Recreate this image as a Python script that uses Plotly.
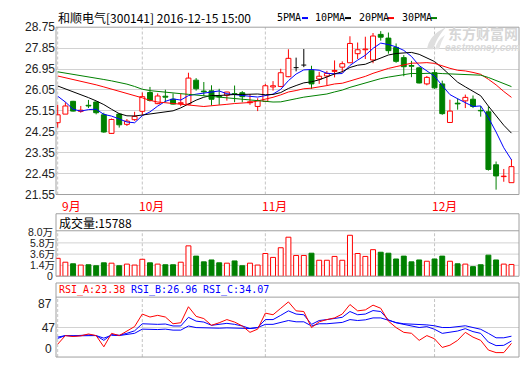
import plotly.graph_objects as go

# ---------------- data ----------------
month_labels = ["9月", "10月", "11月", "12月"]
month_start_idx = [0, 11, 27, 49]

opens = [24.64, 25.01, 25.56, 25.13, 25.39, 25.53, 24.98, 24.18, 25.01, 24.57,
         24.77, 25.13, 25.94, 25.46, 25.78, 25.65, 25.46, 25.44, 26.47, 26.00,
         26.01, 25.78, 25.82, 25.89, 25.93, 25.50, 25.34, 25.56, 26.18, 26.20,
         26.62, 27.01, 27.12, 26.90, 26.52, 26.65, 26.85, 27.03, 27.22, 27.61,
         27.78, 27.34, 28.44, 28.28, 27.88, 27.44, 27.10, 27.00, 26.31, 26.79,
         26.31, 24.65, 25.48, 25.58, 25.65, 25.17, 25.11, 22.83, 22.32, 22.06]
highs = [25.41, 25.52, 25.58, 25.36, 25.62, 25.56, 25.07, 24.82, 25.05, 24.80,
         25.11, 25.94, 26.18, 25.90, 26.06, 25.90, 25.90, 26.79, 26.56, 26.39,
         26.25, 26.10, 25.97, 26.24, 26.00, 25.87, 25.69, 26.31, 26.43, 26.96,
         27.80, 27.44, 27.81, 27.09, 26.83, 26.87, 27.32, 27.28, 28.36, 28.09,
         28.34, 28.50, 28.58, 28.52, 28.05, 27.55, 27.30, 27.05, 26.65, 26.93,
         26.45, 25.63, 25.69, 25.85, 25.81, 25.36, 25.34, 22.97, 22.65, 23.07]
lows = [24.43, 25.01, 25.12, 25.07, 25.27, 25.00, 24.21, 24.16, 24.43, 24.50,
        24.72, 24.96, 25.55, 25.44, 25.51, 25.42, 25.35, 25.40, 26.02, 25.80,
        25.38, 25.41, 25.59, 25.52, 25.52, 25.41, 25.14, 25.54, 26.02, 26.17,
        26.60, 26.85, 27.03, 26.10, 26.31, 26.25, 26.59, 26.80, 27.22, 27.38,
        27.38, 27.20, 28.17, 27.61, 27.22, 26.64, 26.60, 26.33, 26.25, 26.10,
        24.98, 24.63, 25.20, 25.27, 25.27, 24.90, 22.58, 21.76, 22.10, 22.06]
closes = [24.98, 25.36, 25.14, 25.18, 25.36, 25.07, 24.24, 24.78, 24.55, 24.71,
          24.91, 25.76, 25.60, 25.79, 25.74, 25.44, 25.50, 26.56, 26.10, 25.97,
          25.65, 25.75, 25.96, 25.87, 25.76, 25.54, 25.59, 26.23, 26.23, 26.79,
          27.41, 27.01, 27.12, 26.31, 26.64, 26.76, 26.89, 27.18, 28.05, 27.78,
          27.81, 28.37, 28.32, 27.74, 27.28, 27.05, 27.07, 26.35, 26.59, 26.14,
          25.03, 25.14, 25.45, 25.73, 25.34, 25.15, 22.63, 22.35, 22.34, 22.75]
# volume in 万 (10k lots)
volumes_wan = [2.78, 2.02, 1.71, 1.46, 1.52, 1.33, 1.90, 1.83, 1.33, 1.65,
               1.46, 2.59, 1.90, 1.65, 1.52, 1.52, 2.02, 5.22, 3.21, 2.09,
               2.46, 1.90, 1.83, 2.27, 1.33, 1.83, 1.46, 3.72, 2.96, 4.85,
               6.91, 3.34, 3.34, 3.78, 2.40, 2.40, 3.15, 2.40, 7.29, 3.72,
               3.15, 4.47, 3.97, 3.78, 2.65, 3.21, 2.09, 2.46, 2.21, 2.65,
               3.21, 2.21, 1.71, 1.65, 1.15, 1.52, 3.40, 2.46, 1.65, 1.5788]

# moving-average values before enough closes are available in the window
ma5_head = [25.78, 25.53, 25.22, 25.14]
ma10_head = [26.22, 26.10, 25.97, 25.85, 25.72, 25.58, 25.42, 25.22, 25.03]
ma20_head = [26.65, 26.58, 26.50, 26.43, 26.35, 26.27, 26.18, 26.09, 26.00, 25.91,
             25.81, 25.71, 25.60, 25.53, 25.50, 25.47, 25.44, 25.40, 25.37]
ma30_head = [26.83, 26.78, 26.72, 26.67, 26.61, 26.56, 26.50, 26.44, 26.38, 26.30,
             26.20, 26.08, 26.02, 25.98, 25.95, 25.92, 25.89, 25.86, 25.83, 25.80,
             25.77, 25.74, 25.71, 25.67, 25.63, 25.59, 25.56, 25.54, 25.53]

rsi_a = [22.2, 35.0, 33.6, 34.6, 37.4, 35.0, 18.3, 38.3, 35.0, 41.2,
         48.4, 67.0, 62.6, 65.1, 62.6, 52.6, 54.1, 77.9, 63.6, 60.3,
         50.3, 54.1, 58.8, 55.1, 49.3, 39.8, 44.6, 68.4, 66.0, 75.6,
         85.1, 71.8, 70.8, 46.9, 55.5, 58.8, 61.3, 67.0, 81.2, 71.8,
         73.2, 80.3, 75.6, 56.5, 46.9, 39.8, 38.4, 27.9, 35.0, 30.2,
         17.4, 20.7, 27.9, 39.8, 32.7, 27.9, 13.5, 9.7, 9.7, 23.38]
rsi_b = [32.7, 35.0, 34.6, 35.0, 36.0, 35.0, 27.9, 36.5, 35.5, 38.4,
         42.1, 52.6, 51.7, 51.7, 52.2, 49.3, 49.3, 62.2, 56.5, 55.1,
         50.3, 51.7, 53.2, 51.7, 49.3, 45.5, 46.9, 58.8, 58.8, 65.1,
         71.8, 67.0, 66.0, 51.7, 57.4, 58.8, 60.3, 62.2, 70.8, 66.0,
         67.0, 72.2, 70.8, 58.3, 54.0, 51.3, 49.6, 47.0, 48.3, 44.4,
         38.3, 39.6, 41.8, 45.3, 40.9, 38.3, 25.3, 20.1, 20.5, 26.96]
rsi_c = [30.8, 35.0, 34.6, 35.0, 35.5, 35.0, 31.2, 35.5, 35.0, 36.5,
         38.4, 44.6, 44.0, 44.0, 44.6, 43.1, 43.1, 49.3, 46.9, 46.5,
         45.5, 46.0, 46.5, 46.5, 46.0, 45.5, 46.9, 51.7, 51.7, 54.6,
         57.4, 55.5, 55.5, 49.3, 52.6, 52.6, 53.6, 54.6, 58.8, 57.4,
         58.4, 61.3, 61.3, 57.4, 54.4, 52.6, 52.2, 51.3, 50.9, 49.6,
         47.0, 47.0, 47.9, 49.6, 47.0, 44.4, 38.3, 31.7, 31.7, 34.07]

price_ticks = [21.55, 22.45, 23.35, 24.25, 25.15, 26.05, 26.95, 27.85, 28.75]
price_tick_text = ["21.55", "22.45", "23.35", "24.25", "25.15", "26.05", "26.95", "27.85", "28.75"]
vol_grid_ticks = [1.4, 3.6, 5.8]
vol_grid_text = ["1.4万", "3.6万", "5.8万"]
vol_top_label, vol_bottom_label = "8.0万", "0"
rsi_grid_ticks = [47]
rsi_grid_text = ["47"]
rsi_top_label, rsi_bottom_label = "87", "0"

title_text = "和顺电气[300141] 2016-12-15 15:00"
vol_title = "成交量:15788"
rsi_titles = ["RSI_A:23.38", "RSI_B:26.96", "RSI_C:34.07"]
ma_names = ["5PMA", "10PMA", "20PMA", "30PMA"]
watermark_cn = "东方财富网"
watermark_en = "eastmoney.com"

# ---------------- style ----------------
W, H = 520, 365
RED, GREEN, BLUE, BLACK = "#ff0000", "#008000", "#0000ff", "#000000"
BORDER, GRID, DASH = "#a0a0a0", "#d2d2d2", "#c4c4c4"
BODY_W = 0.64
VOL_AXIS_MIN = -0.73


def px(x):
    return x / W


def py(y):
    return 1 - y / H


N = len(closes)
idx = list(range(N))


def moving_avg(head, n):
    out = list(head)
    for i in range(len(head), N):
        out.append(sum(closes[i - n + 1:i + 1]) / n)
    return out


ma_series = [moving_avg(ma5_head, 5), moving_avg(ma10_head, 10),
             moving_avg(ma20_head, 20), moving_avg(ma30_head, 30)]
ma_colors = [BLUE, BLACK, RED, GREEN]

up = [i for i in idx if closes[i] > opens[i]]
dn = [i for i in idx if closes[i] < opens[i]]
dj = [i for i in idx if closes[i] == opens[i]]


def wick_xy(ids):
    xs, ys = [], []
    for i in ids:
        top = max(opens[i], closes[i])
        bot = min(opens[i], closes[i])
        xs += [i, i, None, i, i, None]
        ys += [highs[i], top, None, bot, lows[i], None]
    return xs, ys


fig = go.Figure()

for ids, col in [(up, RED), (dn, GREEN)]:
    wx, wy = wick_xy(ids)
    fig.add_trace(go.Scatter(x=wx, y=wy, mode="lines", line=dict(color=col, width=1),
                             xaxis="x", yaxis="y", hoverinfo="skip"))
dx, dy = [], []
for i in dj:
    dx += [i, i, None, i - BODY_W / 2, i + BODY_W / 2, None]
    dy += [highs[i], lows[i], None, opens[i], opens[i], None]
fig.add_trace(go.Scatter(x=dx, y=dy, mode="lines", line=dict(color=BLACK, width=1),
                         xaxis="x", yaxis="y", hoverinfo="skip"))

fig.add_trace(go.Bar(x=up, y=[closes[i] - opens[i] for i in up], base=[opens[i] for i in up],
                     width=BODY_W, marker=dict(color="white", line=dict(color=RED, width=1)),
                     xaxis="x", yaxis="y"))
fig.add_trace(go.Bar(x=dn, y=[opens[i] - closes[i] for i in dn], base=[closes[i] for i in dn],
                     width=BODY_W, marker=dict(color=GREEN, line=dict(color=GREEN, width=1)),
                     xaxis="x", yaxis="y"))

for s, c in zip(ma_series, ma_colors):
    fig.add_trace(go.Scatter(x=idx, y=s, mode="lines", line=dict(color=c, width=1),
                             xaxis="x", yaxis="y", hoverinfo="skip"))

vol_up = [i for i in idx if closes[i] >= opens[i]]
vol_dn = [i for i in idx if closes[i] < opens[i]]
fig.add_trace(go.Bar(x=vol_up, y=[volumes_wan[i] - VOL_AXIS_MIN for i in vol_up],
                     base=[VOL_AXIS_MIN] * len(vol_up), width=BODY_W,
                     marker=dict(color="white", line=dict(color=RED, width=1)),
                     xaxis="x", yaxis="y2"))
fig.add_trace(go.Bar(x=vol_dn, y=[volumes_wan[i] - VOL_AXIS_MIN for i in vol_dn],
                     base=[VOL_AXIS_MIN] * len(vol_dn), width=BODY_W,
                     marker=dict(color=GREEN, line=dict(color=GREEN, width=1)),
                     xaxis="x", yaxis="y2"))

for s, c in [(rsi_c, BLUE), (rsi_b, BLUE), (rsi_a, RED)]:
    fig.add_trace(go.Scatter(x=idx, y=s, mode="lines", line=dict(color=c, width=1),
                             xaxis="x", yaxis="y3", hoverinfo="skip"))

shapes = []
for (t, b) in [(21, 195), (215, 280), (287, 364)]:
    shapes.append(dict(type="rect", xref="paper", yref="paper", x0=px(56), x1=px(519),
                       y0=py(b), y1=py(t), line=dict(color=BORDER, width=1), layer="above"))
for y in [232.7, 301.7]:
    shapes.append(dict(type="line", xref="paper", yref="paper", x0=px(56), x1=px(519),
                       y0=py(y), y1=py(y), line=dict(color=BORDER, width=1), layer="above"))
for v in vol_grid_ticks:
    shapes.append(dict(type="line", xref="paper", yref="y2", x0=px(56), x1=px(519),
                       y0=v, y1=v, line=dict(color=GRID, width=1), layer="below"))
for v in rsi_grid_ticks:
    shapes.append(dict(type="line", xref="paper", yref="y3", x0=px(56), x1=px(519),
                       y0=v, y1=v, line=dict(color=GRID, width=1), layer="below"))
for m in month_start_idx:
    for yr in ["y domain", "y2 domain", "y3 domain"]:
        shapes.append(dict(type="line", xref="x", yref=yr, x0=m, x1=m, y0=0, y1=1,
                           line=dict(color=DASH, width=1, dash="3px,2px"), layer="below"))
legend_text_x = [275, 312.7, 356.7, 400]
legend_dash_x = [302, 345, 388, 431]
for lx, c in zip(legend_dash_x, ma_colors):
    shapes.append(dict(type="line", xref="paper", yref="paper", x0=px(lx), x1=px(lx + 6),
                       y0=py(11.5), y1=py(11.5), line=dict(color=c, width=2)))


# watermark swoosh logo (decorative, light grey)
def pth(points):
    cmds = []
    for cmd, pts in points:
        cmds.append(cmd + " " + " ".join(f"{px(a):.5f},{py(b):.5f}" for a, b in pts))
    return " ".join(cmds) + " Z"


shapes.append(dict(type="path", xref="paper", yref="paper", layer="above",
                   path=pth([("M", [(427, 44)]), ("Q", [(429, 29), (446, 21)]),
                             ("Q", [(437, 31), (433, 44)])]),
                   fillcolor="#dedede", line=dict(width=0)))
shapes.append(dict(type="path", xref="paper", yref="paper", layer="above",
                   path=pth([("M", [(435, 44)]), ("Q", [(437, 34), (445, 29)]),
                             ("Q", [(441, 36), (439, 44)])]),
                   fillcolor="#e4e4e4", line=dict(width=0)))

CJK = "Noto Sans CJK SC"
MONO = "DejaVu Sans Mono"
LAB = "Liberation Sans, Noto Sans CJK SC"
annotations = []


def ann(text, x, y, color="#000", size=12, family=CJK, xanchor="left", pad=1, **font_kw):
    f = dict(color=color, size=size, family=family)
    f.update(font_kw)
    annotations.append(dict(text=text, x=px(x), y=py(y), xref="paper", yref="paper",
                            xanchor=xanchor, yanchor="middle", showarrow=False, font=f,
                            borderpad=pad))


ann(title_text, 56, 10.5, size=12)
for t, lx in zip(ma_names, legend_text_x):
    ann(t, lx, 10.8, size=10, family=MONO)
ann(vol_title, 57, 224, size=12)
for t, lx, c in zip(rsi_titles, [57, 129, 201], [RED, BLUE, BLUE]):
    ann(t, lx, 294.5, color=c, size=10, family=MONO)
ann(vol_top_label, 54, 234, color="#222", size=10.5, family=LAB, xanchor="right", pad=0)
ann(vol_bottom_label, 54, 279.5, color="#222", size=10.5, family=LAB, xanchor="right", pad=0)
ann(rsi_top_label, 54, 309, color="#222", size=12, family=LAB, xanchor="right")
ann(rsi_bottom_label, 54, 356, color="#222", size=12, family=LAB, xanchor="right")
ann(watermark_cn, 483, 27, color="#d6d6d6", size=14, xanchor="center", pad=0, weight="bold")
ann(watermark_en, 482.5, 42.5, color="#d9d9d9", size=10, family="Liberation Sans",
    xanchor="center", pad=0, weight="bold", style="italic")
for lab, m in zip(month_labels, month_start_idx):
    annotations.append(dict(text=lab, x=m, y=py(206), xref="x", yref="paper",
                            xanchor="left", yanchor="middle", xshift=(2 if m == 0 else -5),
                            showarrow=False, font=dict(color=RED, size=12, family=CJK)))

tick_font = dict(family=LAB, size=12, color="#222")

fig.update_layout(
    width=W, height=H, margin=dict(l=0, r=0, t=0, b=0),
    paper_bgcolor="white", plot_bgcolor="white",
    showlegend=False, hovermode=False, barmode="overlay",
    shapes=shapes, annotations=annotations,
    xaxis=dict(domain=[px(56), px(519)], range=[-0.22, 59.98], showgrid=False,
               zeroline=False, showticklabels=False, ticks="", anchor="y"),
    yaxis=dict(domain=[py(195), py(21)], range=[21.55, 28.75], tickvals=price_ticks,
               ticktext=price_tick_text, showgrid=True, gridcolor=GRID, gridwidth=1,
               zeroline=False, ticks="", tickfont=tick_font, anchor="x"),
    yaxis2=dict(domain=[py(280), py(232.7)], range=[VOL_AXIS_MIN, 8.17], tickvals=vol_grid_ticks,
                ticktext=vol_grid_text, showgrid=False, zeroline=False, ticks="",
                tickfont=dict(family=LAB, size=10.5, color="#222"), anchor="x"),
    yaxis3=dict(domain=[py(364), py(301.7)], range=[3.1, 92.2], tickvals=rsi_grid_ticks,
                ticktext=rsi_grid_text, showgrid=False, zeroline=False, ticks="",
                tickfont=tick_font, anchor="x"),
)

fig.write_html("out.html", config={"displayModeBar": False},
               post_script="document.body.style.margin='0';document.body.style.overflow='hidden';")
